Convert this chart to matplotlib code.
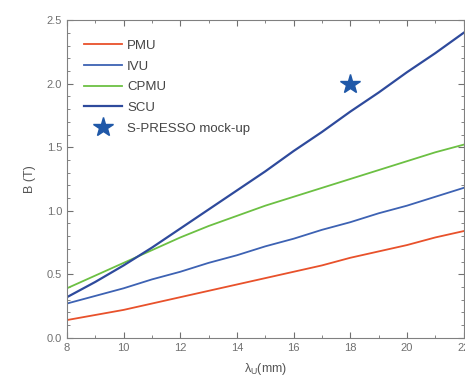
import matplotlib
matplotlib.use("Agg")
import matplotlib.pyplot as plt
from matplotlib.ticker import MultipleLocator, FormatStrFormatter

plt.rcParams['font.family'] = ['Liberation Sans', 'DejaVu Sans']
plt.rcParams['mathtext.fontset'] = 'custom'
plt.rcParams['mathtext.rm'] = 'Liberation Sans'
plt.rcParams['mathtext.it'] = 'Liberation Sans'

x = [8, 9, 10, 11, 12, 13, 14, 15, 16, 17, 18, 19, 20, 21, 22]
pmu = [0.14, 0.18, 0.22, 0.27, 0.32, 0.37, 0.42, 0.47, 0.52, 0.57, 0.63, 0.68, 0.73, 0.79, 0.84]
ivu = [0.27, 0.33, 0.39, 0.46, 0.52, 0.59, 0.65, 0.72, 0.78, 0.85, 0.91, 0.98, 1.04, 1.11, 1.18]
cpmu = [0.39, 0.49, 0.59, 0.69, 0.79, 0.88, 0.96, 1.04, 1.11, 1.18, 1.25, 1.32, 1.39, 1.46, 1.52]
scu = [0.32, 0.44, 0.57, 0.71, 0.86, 1.01, 1.16, 1.31, 1.47, 1.62, 1.78, 1.93, 2.09, 2.24, 2.40]
mock_x = [18]
mock_y = [2.0]

fig = plt.figure(figsize=(4.65, 3.87), dpi=100)
ax = fig.add_axes([0.144, 0.127, 0.853, 0.821])

gray = '#707070'
ax.plot(x, pmu, color='#e8512b', lw=1.3, label='PMU')
ax.plot(x, ivu, color='#3d62b3', lw=1.3, label='IVU')
ax.plot(x, cpmu, color='#6cc043', lw=1.3, label='CPMU')
ax.plot(x, scu, color='#2e4a9c', lw=1.6, label='SCU')
ax.plot(mock_x, mock_y, linestyle='none', marker='*', markersize=15, color='#1f58a8', label='S-PRESSO mock-up')

ax.set_xlim(8, 22)
ax.set_ylim(0, 2.5)
ax.xaxis.set_major_locator(MultipleLocator(2))
ax.xaxis.set_minor_locator(MultipleLocator(1))
ax.yaxis.set_major_locator(MultipleLocator(0.5))
ax.yaxis.set_minor_locator(MultipleLocator(0.1))
ax.yaxis.set_major_formatter(FormatStrFormatter('%.1f'))
ax.tick_params(which='both', direction='in', top=True, right=True, colors=gray, labelsize=8)
ax.tick_params(which='major', length=4)
ax.tick_params(which='minor', length=2)
for s in ax.spines.values():
    s.set_color('#808080')

ax.set_xlabel(r'$\lambda_U$(mm)', color='#555555', fontsize=9, labelpad=6)
ax.set_ylabel('B (T)', color='#555555', fontsize=9, labelpad=8)

leg = ax.legend(loc='upper left', frameon=False, fontsize=9.5, handlelength=2.9,
                labelspacing=0.64, handletextpad=0.35, borderaxespad=0.0,
                bbox_to_anchor=(0.03, 0.955))
for t in leg.get_texts():
    t.set_color('#444444')

fig.savefig('out.png', dpi=100)
